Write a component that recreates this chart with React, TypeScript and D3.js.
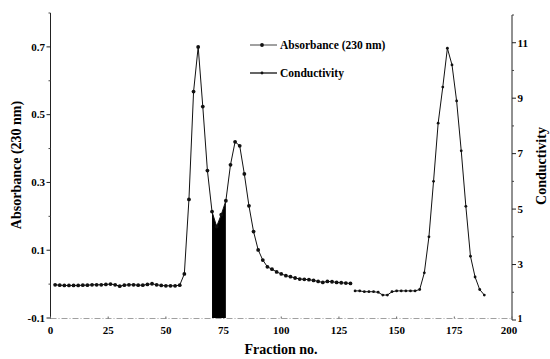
import React from "react";
import * as d3 from "d3";

// Absorbance (230 nm) – fraction numbers and values (left axis)
const absFractions = [
  2, 4, 6, 8, 10, 12, 14, 16, 18, 20, 22, 24, 26, 28, 30, 32, 34, 36, 38, 40, 42, 44, 46, 48, 50, 52, 54, 56,
  58, 60, 62, 64, 66, 68, 70, 72, 74, 76, 78, 80, 82, 84, 86, 88, 90, 92, 94, 96, 98,
  100, 102, 104, 106, 108, 110, 112, 114, 116, 118, 120, 122, 124, 126, 128, 130,
];
const absValues = [
  -0.002, -0.003, -0.004, -0.004, -0.004, -0.004, -0.003, -0.003, -0.002, -0.002, -0.002, -0.001, 0.0, -0.002,
  -0.006, -0.003, -0.002, -0.002, -0.003, -0.003, -0.001, 0.001, -0.002, -0.004, -0.005, -0.005, -0.005, -0.003,
  0.03, 0.25, 0.568, 0.7, 0.524, 0.335, 0.214, 0.17, 0.205, 0.246, 0.352, 0.42, 0.408, 0.325, 0.231, 0.155,
  0.101, 0.071, 0.051, 0.044, 0.036,
  0.03, 0.025, 0.022, 0.018, 0.015, 0.014, 0.013, 0.011, 0.008, 0.005, 0.008, 0.007, 0.005, 0.004, 0.003, 0.002,
];

// Conductivity – fraction numbers and values (right axis)
const condFractions = [
  132, 134, 136, 138, 140, 142, 144, 146, 148, 150, 152, 154, 156, 158,
  160, 162, 164, 166, 168, 170, 172, 174, 176, 178, 180, 182, 184, 186, 188,
];
const condValues = [
  2.05, 2.05, 2.02, 2.02, 2.02, 2.0, 1.9, 1.9, 2.02, 2.05, 2.05, 2.05, 2.05, 2.05,
  2.1, 2.7, 4.0, 6.0, 8.1, 9.4, 10.8, 10.2, 8.9, 7.1, 5.1, 3.3, 2.55, 2.1, 1.9,
];

// Shaded pooled fractions
const poolRange = [70, 76];

const xTicks = [0, 25, 50, 75, 100, 125, 150, 175, 200];
const leftMajor = [-0.1, 0.1, 0.3, 0.5, 0.7];
const leftMinor = [0.0, 0.2, 0.4, 0.6, 0.8];
const rightMajor = [1, 3, 5, 7, 9, 11];
const rightMinor = [2, 4, 6, 8, 10, 12];

const W = 550;
const H = 359;
const FONT = "'Liberation Serif', 'DejaVu Serif', serif";

export default function App() {
  const x = d3.scaleLinear().domain([0, 200]).range([50.5, 512]);
  const yL = d3.scaleLinear().domain([-0.1, 0.8]).range([318, 13]);
  const yR = d3.scaleLinear().domain([1, 12]).range([320, 15]);

  const abs = absFractions.map((f, i) => [f, absValues[i]] as [number, number]);
  const cond = condFractions.map((f, i) => [f, condValues[i]] as [number, number]);

  const absLine = d3
    .line<[number, number]>()
    .x((d) => x(d[0]))
    .y((d) => yL(d[1]))(abs) as string;
  const condLine = d3
    .line<[number, number]>()
    .x((d) => x(d[0]))
    .y((d) => yR(d[1]))(cond) as string;

  const poolPts = abs.filter((d) => d[0] >= poolRange[0] && d[0] <= poolRange[1]);
  const area = d3
    .area<[number, number]>()
    .x((d) => x(d[0]))
    .y0(yL(-0.1))
    .y1((d) => yL(d[1]))(poolPts) as string;

  const axisY = 318.5;

  return (
    <svg width={W} height={H} style={{ position: "absolute", left: 0, top: 0, background: "#fff" }}>
      <rect width={W} height={H} fill="#fff" />
      {/* left axis */}
      <line x1={50.5} x2={50.5} y1={yL(0.8)} y2={axisY} stroke="#222" strokeWidth={1} />
      {leftMajor.map((v) => (
        <g key={"lm" + v}>
          <line x1={46.5} x2={50.5} y1={yL(v)} y2={yL(v)} stroke="#222" />
          <text x={45} y={yL(v) + 3.8} textAnchor="end" fontFamily={FONT} fontWeight="bold" fontSize={11}>
            {v.toFixed(1)}
          </text>
        </g>
      ))}
      {leftMinor.map((v) => (
        <line key={"ln" + v} x1={48.5} x2={50.5} y1={yL(v)} y2={yL(v)} stroke="#444" />
      ))}
      {/* right axis */}
      <line x1={512} x2={512} y1={yR(12)} y2={yR(1)} stroke="#222" strokeWidth={1} />
      {rightMajor.map((v) => (
        <g key={"rm" + v}>
          <line x1={512} x2={516} y1={yR(v)} y2={yR(v)} stroke="#222" />
          <text
            x={517.5}
            y={yR(v) + (v === 1 ? 2 : 3.8)}
            textAnchor="start"
            fontFamily={FONT}
            fontWeight="bold"
            fontSize={v === 1 ? 10 : 11}
          >
            {v}
          </text>
        </g>
      ))}
      {rightMinor.map((v) => (
        <line key={"rn" + v} x1={512} x2={514} y1={yR(v)} y2={yR(v)} stroke="#444" />
      ))}
      {/* bottom axis */}
      <line x1={50.5} x2={512} y1={axisY} y2={axisY} stroke="#888" strokeWidth={0.8} strokeDasharray="6 2 1 2" />
      {xTicks.map((v) => (
        <g key={"x" + v}>
          <line x1={x(v)} x2={x(v)} y1={axisY} y2={axisY - 2} stroke="#666" />
          <text
            x={v === 200 ? x(v) - 3 : x(v)}
            y={334}
            textAnchor="middle"
            fontFamily={FONT}
            fontWeight="bold"
            fontSize={11}
          >
            {v}
          </text>
        </g>
      ))}
      {/* titles */}
      <text x={281} y={354} textAnchor="middle" fontFamily={FONT} fontWeight="bold" fontSize={14}>
        Fraction no.
      </text>
      <text
        transform={`translate(21,165) rotate(-90)`}
        textAnchor="middle"
        fontFamily={FONT}
        fontWeight="bold"
        fontSize={14}
      >
        Absorbance (230 nm)
      </text>
      <text
        transform={`translate(546,166) rotate(-90)`}
        textAnchor="middle"
        fontFamily={FONT}
        fontWeight="bold"
        fontSize={14}
      >
        Conductivity
      </text>
      {/* pooled fraction fill */}
      <path d={area} fill="#000" />
      {/* series */}
      <path d={absLine} fill="none" stroke="#111" strokeWidth={1} />
      {abs.map((d, i) => (
        <circle key={"a" + i} cx={x(d[0])} cy={yL(d[1])} r={1.9} fill="#111" />
      ))}
      <path d={condLine} fill="none" stroke="#111" strokeWidth={1} />
      {cond.map((d, i) => (
        <circle key={"c" + i} cx={x(d[0])} cy={yR(d[1])} r={1.4} fill="#111" />
      ))}
      {/* legend */}
      <line x1={250} x2={277} y1={45} y2={45} stroke="#111" strokeWidth={0.8} />
      <circle cx={262} cy={45} r={1.9} fill="#111" />
      <text x={280} y={48.5} fontFamily={FONT} fontWeight="bold" fontSize={11.5}>
        Absorbance (230 nm)
      </text>
      <line x1={250} x2={277} y1={73} y2={73} stroke="#111" strokeWidth={1.3} />
      <circle cx={262} cy={73} r={1.4} fill="#111" />
      <text x={280} y={77} fontFamily={FONT} fontWeight="bold" fontSize={11.5}>
        Conductivity
      </text>
    </svg>
  );
}
